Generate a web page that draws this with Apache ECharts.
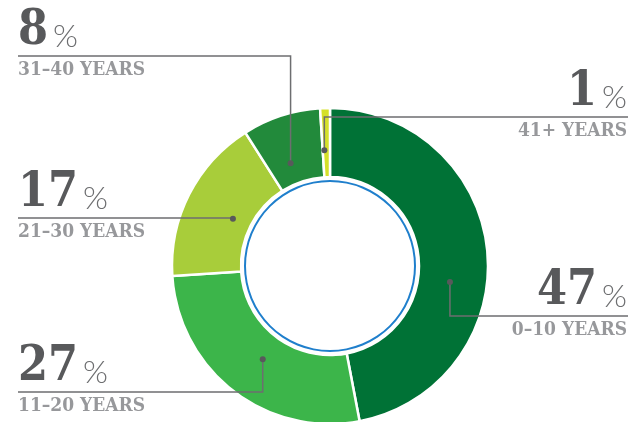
<!DOCTYPE html>
<html>
<head>
<meta charset="utf-8">
<script src="https://cdn.jsdelivr.net/npm/echarts@6/dist/echarts.min.js"></script>
<style>
  html, body { margin: 0; padding: 0; background: #fff; }
  #chart { width: 630px; height: 422px; }
</style>
</head>
<body>
<div id="chart"></div>
<script>
// data
const categories = ['0–10 YEARS', '11–20 YEARS', '21–30 YEARS', '31–40 YEARS', '41+ YEARS']
const values = [47, 27, 17, 8, 1]
const colors = ['#007236', '#3cb54a', '#a8cd3a', '#228a3b', '#d5e02a']

// label placement: side of the page, y of the underline, dot nudge (deg) and dot radius
const labelSide = ['right', 'left', 'left', 'left', 'right']
const labelLineY = [316, 392, 218, 56, 117]
const dotNudge = [13, -2, -1, -3, -1]
const dotRadius = [121, 115, 108, 110, 116]

const CX = 330
const CY = 266
const R_IN = 89
const R_OUT = 158

const NUM_COLOR = '#58595b'
const SUB_COLOR = '#97989b'
const LINE_COLOR = '#6d6e70'

const chart = echarts.init(document.getElementById('chart'))

// measure text width for right-aligned labels
const ctx = document.createElement('canvas').getContext('2d')
function textWidth (str, font) {
  ctx.font = font
  return ctx.measureText(str).width
}

const numFont = 'bold 48px "DejaVu Serif Condensed", "DejaVu Serif"'
const pctFont = '300 32px Lato'
const subFont = 'bold 19px "DejaVu Serif Condensed", "DejaVu Serif"'

function buildLabels () {
  const total = values.reduce((a, b) => a + b, 0)
  const elements = []
  let acc = 0
  values.forEach((v, i) => {
    const mid = ((acc + v / 2) / total) * 360 + dotNudge[i] // 从12点钟顺时针
    acc += v
    const rad = mid * Math.PI / 180
    const dx = CX + dotRadius[i] * Math.sin(rad)
    const dy = CY - dotRadius[i] * Math.cos(rad)
    const ly = labelLineY[i]
    const right = labelSide[i] === 'right'
    const endX = right ? 628 : 18

    // 引导线
    elements.push({
      type: 'polyline',
      silent: true,
      z: 100,
      shape: { points: [[dx, dy], [dx, ly], [endX, ly]] },
      style: { stroke: LINE_COLOR, lineWidth: 1.5, fill: null }
    })
    elements.push({
      type: 'circle',
      silent: true,
      z: 101,
      shape: { cx: dx, cy: dy, r: 3 },
      style: { fill: '#58595b' }
    })

    const numStr = String(v)
    const pctW = textWidth('%', pctFont)
    const numW = textWidth(numStr, numFont)
    const numX = right ? 627 - pctW - 5 - numW : 18
    const pctX = numX + numW + 5

    elements.push({
      type: 'text',
      silent: true,
      z: 100,
      x: numX,
      y: ly,
      style: {
        text: numStr,
        font: numFont,
        fill: NUM_COLOR,
        align: 'left',
        verticalAlign: 'bottom'
      }
    })
    elements.push({
      type: 'text',
      silent: true,
      z: 100,
      x: pctX,
      y: ly - 3,
      style: {
        text: '%',
        font: pctFont,
        fill: '#6d6e70',
        align: 'left',
        verticalAlign: 'bottom'
      }
    })
    elements.push({
      type: 'text',
      silent: true,
      z: 100,
      x: right ? 627 : 18,
      y: ly + 5,
      style: {
        text: categories[i],
        font: subFont,
        fill: SUB_COLOR,
        align: right ? 'right' : 'left',
        verticalAlign: 'top'
      }
    })
  })
  return elements
}

chart.setOption({
  animation: false,
  series: [
    {
      type: 'pie',
      silent: true,
      z: 2,
      center: [CX, CY],
      radius: [R_IN, R_OUT],
      startAngle: 90,
      clockwise: true,
      label: { show: false },
      labelLine: { show: false },
      itemStyle: {
        borderColor: '#fff',
        borderWidth: 2.5
      },
      data: values.map((v, i) => ({
        name: categories[i],
        value: v,
        itemStyle: { color: colors[i] }
      }))
    },
    {
      // 内圈蓝色细线
      type: 'pie',
      silent: true,
      z: 2,
      center: [CX, CY],
      radius: [84, 86],
      label: { show: false },
      labelLine: { show: false },
      data: [{ value: 1, itemStyle: { color: '#1f7fcc' } }]
    }
  ],
  graphic: { elements: buildLabels() }
})
</script>
</body>
</html>
